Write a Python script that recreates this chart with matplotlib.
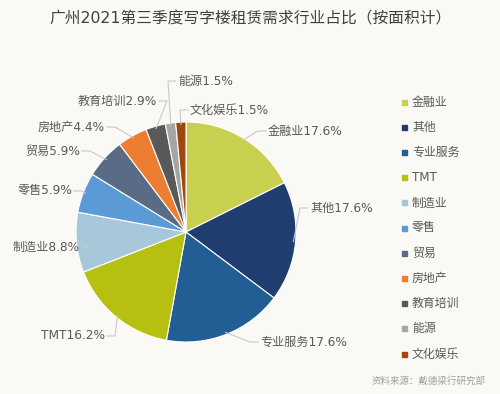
import numpy as np
import matplotlib.pyplot as plt

plt.rcParams['font.family'] = ['DejaVu Sans', 'Noto Sans CJK SC']

categories = ["金融业", "其他", "专业服务", "TMT", "制造业", "零售", "贸易",
              "房地产", "教育培训", "能源", "文化娱乐"]
values = [17.6, 17.6, 17.6, 16.2, 8.8, 5.9, 5.9, 4.4, 2.9, 1.5, 1.5]
colors = ["#c9cf4e", "#1f3d6e", "#225d93", "#b5c011", "#a6c8da", "#5b9bd5",
          "#5a6b85", "#ed7d31", "#595959", "#a5a5a5", "#9e480e"]

# label text anchor in pixels (x, y, ha)
label_pos = [(268, 131, "left"), (310, 208, "left"), (260, 342, "left"),
             (105, 336, "right"), (80, 247, "right"), (72, 191, "right"),
             (80, 151, "right"), (105, 127, "right"), (157, 101, "right"),
             (178, 81, "left"), (190, 110, "left")]

W, H = 500, 394
cx, cy, R = 186, 232, 110
bg = "#faf9f5"

fig = plt.figure(figsize=(5, 3.94), dpi=100, facecolor=bg)
ax = fig.add_axes([(cx - R) / W, (H - cy - R) / H, 2 * R / W, 2 * R / H])
ax.set_facecolor(bg)

wedges, _ = ax.pie(values, colors=colors, startangle=90, counterclock=False,
                   radius=1, wedgeprops=dict(edgecolor="white", linewidth=0.8))
ax.set_xlim(-1, 1)
ax.set_ylim(-1, 1)
ax.axis("off")


def px2d(px, py):
    return (px - cx) / R, (cy - py) / R


for w, cat, val, (px, py, ha) in zip(wedges, categories, values, label_pos):
    ang = np.deg2rad((w.theta1 + w.theta2) / 2)
    x0, y0 = np.cos(ang), np.sin(ang)
    sgn = 1 if ha == "left" else -1
    tx, ty = px2d(px, py)
    ex, ey = px2d(px - sgn * 10, py)
    ax.plot([x0 * 0.98, ex, tx - sgn * 2 / R], [y0 * 0.98, ey, ty],
            color="#c8c8c8", lw=0.8, clip_on=False)
    ax.text(tx, ty, f"{cat}{val}%", ha=ha, va="center", fontsize=8.7,
            color="#595959", clip_on=False)

fig.text(0.5, 1 - 19 / H, "广州2021第三季度写字楼租赁需求行业占比（按面积计）",
         ha="center", va="center", fontsize=11.3, color="#404040")

# legend
for i, (cat, c) in enumerate(zip(categories, colors)):
    y = 102 + i * 25.2
    fig.patches.append(plt.Rectangle((402 / W, 1 - (y + 2.5) / H), 5 / W, 5 / H,
                                     transform=fig.transFigure, color=c))
    fig.text(412 / W, 1 - y / H, cat, ha="left", va="center", fontsize=8.6,
             color="#595959")

fig.text(485 / W, 1 - 381 / H, "资料来源：戴德梁行研究部", ha="right", va="center",
         fontsize=6.8, color="#a0a0a0")

fig.savefig("out.png", dpi=100, facecolor=bg)
